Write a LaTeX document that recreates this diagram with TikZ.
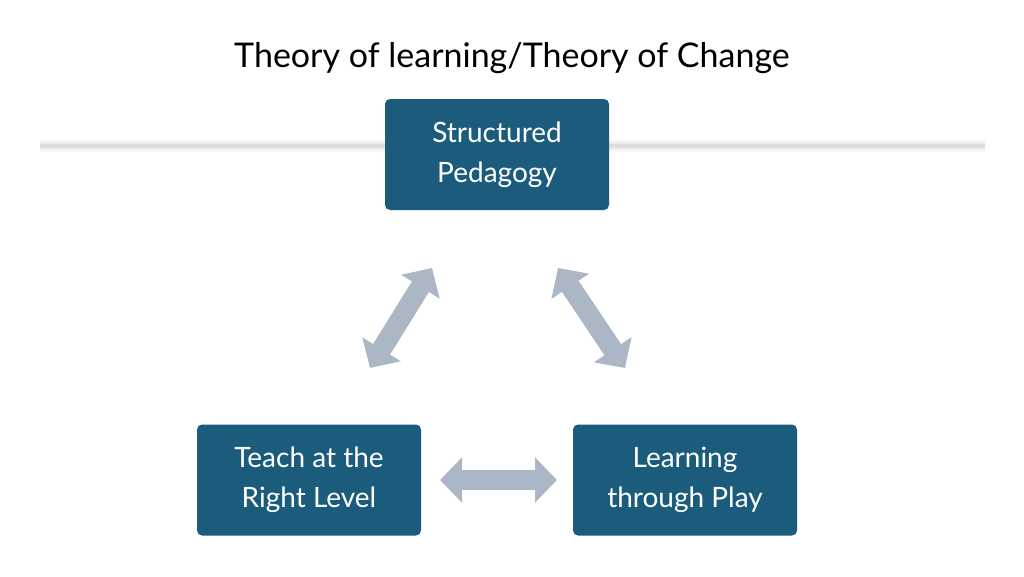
\documentclass[tikz,border=0pt]{standalone}
\usepackage{fontspec}
\setmainfont{Lato}
\usetikzlibrary{arrows.meta}
\definecolor{boxblue}{HTML}{1B5C7C}
\definecolor{arrgray}{HTML}{ABB7C4}
\tikzset{
 box/.style={fill=boxblue,rounded corners=5pt,minimum width=224pt,minimum height=111pt,text=white,font=\fontsize{28}{40}\selectfont,align=center},
 dbl/.style={arrgray,line width=20pt,{Triangle[width=44pt,length=22pt]}-{Triangle[width=44pt,length=22pt]}}
}
\begin{document}
\begin{tikzpicture}[x=1pt,y=-1pt]
\useasboundingbox (0,0) rectangle (1024,576);
\fill[white] (0,0) rectangle (1024,576);
\foreach \w/\o in {12/0.05,8/0.07,4/0.1}{\draw[black!60,line width=\w pt,opacity=\o] (40,146) -- (985,146);}
\node (title) at (512,58) {\fontsize{34}{40}\selectfont Theory of learning/Theory of Change};
\node[box] (sp) at (497,154.5) {Structured\\Pedagogy};
\node[box] (tr) at (309,480) {Teach at the\\Right Level};
\node[box] (lp) at (685,480) {Learning\\through Play};
\coordinate (a1) at (432,268); \coordinate (a2) at (370,368);
\coordinate (b1) at (558,268); \coordinate (b2) at (625,368);
\coordinate (c1) at (440,480); \coordinate (c2) at (557,480);
\draw[dbl] (a1) -- (a2);
\draw[dbl] (b1) -- (b2);
\draw[dbl] (c1) -- (c2);
\end{tikzpicture}
\end{document}
